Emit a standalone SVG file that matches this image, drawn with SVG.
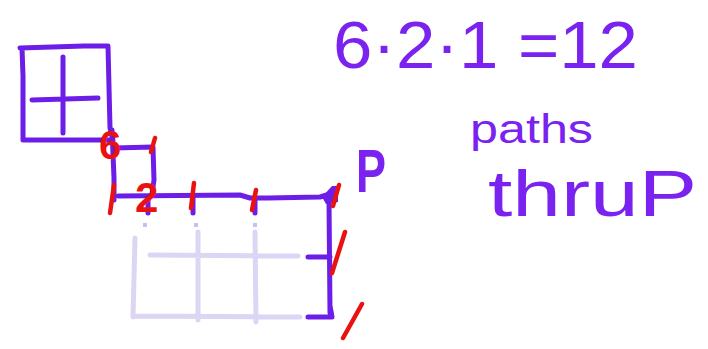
<svg xmlns="http://www.w3.org/2000/svg" width="708" height="349" viewBox="0 0 708 349">
<style>
.pu{fill:none;stroke:#6c1ee8;stroke-width:5;stroke-linecap:round;stroke-linejoin:round}
.lt{fill:none;stroke:#dcd5f3;stroke-width:5;stroke-linecap:round}
.rd{fill:none;stroke:#ea1111;stroke-width:4.5;stroke-linecap:round}
.dot{fill:#c9bdf2}
.tx{fill:#7a22f0;font-family:"Liberation Sans",sans-serif}
.rt{fill:#ea1111;font-family:"Liberation Sans",sans-serif;font-weight:bold}
</style>
<rect width="708" height="349" fill="#ffffff"/>
<g id="faint-grid">
<path class="lt" d="M135 238 L133 317 M198 232 L198 320 M255 232 L256 322 M150 255 L298 256 M133 316 L300 317"/>
<rect class="dot" x="143" y="223" width="4" height="4"/>
<rect class="dot" x="194" y="223" width="4" height="4"/>
<rect class="dot" x="253" y="223" width="4" height="4"/>
</g>
<g id="box">
<path class="pu" d="M20 48 L84 46 L108 46 L110 128 L113 140 L23 140 L23 76 L22 48"/>
<path class="pu" d="M63 57 L63 133 M32 100 L98 98"/>
</g>
<g id="path-lines">
<path class="pu" d="M112 130 L114 178 L114 200 M114 148 L153 147 L154 180 L152 194"/>
<path class="pu" d="M118 196 L240 195 L250 198 L268 198 L320 197 L330 194"/>
<path class="pu" d="M148 198 L148 213 M193 198 L193 213 M255 198 L255 213"/>
<path d="M322 197 L332 186 L338 186 L338 202 L326 204 Z" fill="#6c1ee8"/>
<path class="pu" d="M329 200 L330 313 M308 257 L330 257 M308 317 L332 317 L330 306"/>
</g>
<g id="red-marks">
<text class="rt" x="99" y="159" font-size="40">6</text>
<text class="rt" x="135" y="212" font-size="42">2</text>
<path class="rd" d="M151 152 L155 138 M114 185 L110 213 M194 183 L191 208 M256 190 L252 210 M339 185 L333 206 M345 232 L332 273 M362 304 L343 338"/>
</g>
<g id="labels">
<text class="tx" x="333" y="68" font-size="66" textLength="305" lengthAdjust="spacingAndGlyphs">6·2·1 =12</text>
<text class="tx" x="356" y="192" font-size="62" font-weight="bold" textLength="30" lengthAdjust="spacingAndGlyphs">P</text>
<text class="tx" x="470" y="143" font-size="40" textLength="123" lengthAdjust="spacingAndGlyphs">paths</text>
<text class="tx" x="488" y="216" font-size="64" textLength="209" lengthAdjust="spacingAndGlyphs">thruP</text>
</g>
</svg>
